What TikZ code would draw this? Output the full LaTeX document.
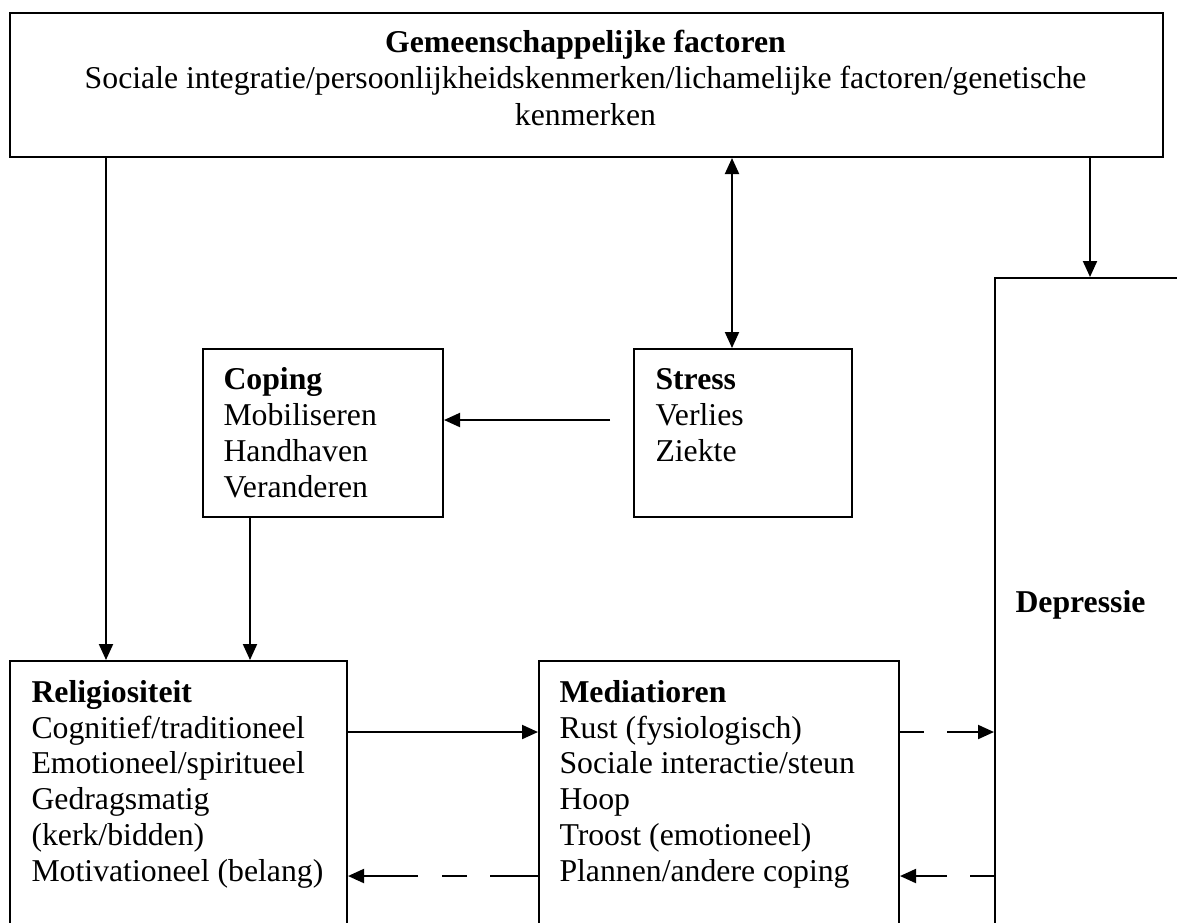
\documentclass[tikz,border=0pt]{standalone}
\usepackage{fontspec}
\setmainfont{Liberation Serif}
\usetikzlibrary{arrows.meta}
\tikzset{
  box/.style={draw, line width=0.8pt, rectangle, anchor=north west, inner sep=0pt},
  txt/.style={inner sep=0pt, align=left, anchor=base west, font=\fontsize{12.7}{14.3}\selectfont},
  arr/.style={line width=0.8pt, -{Triangle[length=6.4pt,width=5.6pt]}},
  arrboth/.style={line width=0.8pt, {Triangle[length=6.4pt,width=5.6pt]}-{Triangle[length=6.4pt,width=5.6pt]}},
  longdash/.style={dash pattern=on 19.2pt off 9.2pt on 10pt off 9.6pt on 40pt},
  shortdash/.style={dash pattern=on 9.6pt off 9.2pt on 40pt}
}
\begin{document}
\begin{tikzpicture}[x=0.4pt,y=-0.4pt]
\clip (0,0) rectangle (1177,922);
\fill[white] (0,0) rectangle (1177,922);
% boxes
\node[box, minimum width=461.2pt, minimum height=57.6pt] (top) at (9,12) {};
\node[box, minimum width=96pt, minimum height=67.2pt] (coping) at (202,348) {};
\node[box, minimum width=87.2pt, minimum height=67.2pt] (stress) at (633,348) {};
\node[box, minimum width=134.8pt, minimum height=120pt] (relig) at (9,660) {};
\node[box, minimum width=144pt, minimum height=120pt] (medi) at (538,660) {};
\node[box, minimum width=82.4pt, minimum height=273.2pt] (depr) at (994,277) {};
% texts (anchor base = baseline of last line)
\node[txt, align=center, anchor=base, font=\fontsize{12.7}{14.5}\selectfont] (toptxt) at (585.5,125) {\textbf{Gemeenschappelijke factoren}\\Sociale integratie/persoonlijkheidskenmerken/lichamelijke factoren/genetische\\kenmerken};
\node[txt] (coptxt) at (223,497) {\textbf{Coping}\\Mobiliseren\\Handhaven\\Veranderen};
\node[txt] (strtxt) at (655,461) {\textbf{Stress}\\Verlies\\Ziekte};
\node[txt] (reltxt) at (31,881) {\textbf{Religiositeit}\\Cognitief/traditioneel\\Emotioneel/spiritueel\\Gedragsmatig\\(kerk/bidden)\\Motivationeel (belang)};
\node[txt] (medtxt) at (559,881) {\textbf{Mediatioren}\\Rust (fysiologisch)\\Sociale interactie/steun\\Hoop\\Troost (emotioneel)\\Plannen/andere coping};
\node[txt] (deptxt) at (1015,612) {\textbf{Depressie}};
% helper coordinates
\coordinate (xa) at (106,0);
\coordinate (xb) at (250,0);
\coordinate (xc) at (732,0);
\coordinate (xd) at (1090,0);
\coordinate (ya) at (0,732);
\coordinate (yb) at (0,876);
\coordinate (s0) at (610,420);
% connectors
\draw[arr] (top.south -| xa) -- (relig.north -| xa);
\draw[arr] (coping.south -| xb) -- (relig.north -| xb);
\draw[arrboth] (top.south -| xc) -- (stress.north -| xc);
\draw[arr] (top.south -| xd) -- (depr.north -| xd);
\draw[arr] (s0) -- (s0 -| coping.east);
\draw[arr] (relig.east |- ya) -- (medi.west |- ya);
\draw[arr, longdash] (medi.west |- yb) -- (relig.east |- yb);
\draw[arr, shortdash] (medi.east |- ya) -- (depr.west |- ya);
\draw[arr, shortdash] (depr.west |- yb) -- (medi.east |- yb);
\end{tikzpicture}
\end{document}
